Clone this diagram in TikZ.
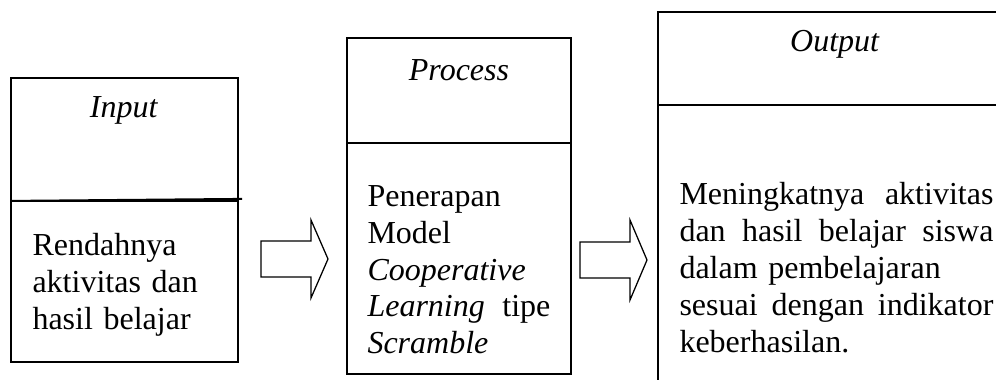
\documentclass[tikz,border=0pt]{standalone}
\usepackage{fontspec}
\setmainfont{Liberation Serif}
\usetikzlibrary{positioning}

% one unit = one pixel of the page
\newcommand{\px}{0.3937pt}

\begin{document}
\begin{tikzpicture}[x=\px, y=-\px,
    font=\fontsize{12.6}{14.5}\selectfont,
    box/.style={rectangle, draw, line width=0.8pt, inner sep=0pt, outer sep=0pt},
    boxtext/.style={anchor=north west, align=left, inner sep=0pt}]
  \useasboundingbox (0,0) rectangle (996,380);
  \clip (0,0) rectangle (996,380);

  % input
  \node (input-head) [box, minimum width=89.4pt, minimum height=48.4pt, anchor=north west] at (11,78) {};
  \node (input-body) [box, minimum width=89.4pt, minimum height=63.4pt, below=0pt of input-head] {};
  \draw[line width=0.8pt] (input-head.south west) -- ([shift={(4,-2)}]input-head.south east);
  \node (input-label) at (124,110) {\textit{Input}};
  \node (input-text) [boxtext, text width=80pt] at (32,233) {Rendahnya\\aktivitas dan\\hasil belajar};

  % process
  \node (process-head) [box, minimum width=88.2pt, minimum height=41.3pt, anchor=north west] at (347,38) {};
  \node (process-body) [box, minimum width=88.2pt, minimum height=90.9pt, below=0pt of process-head] {};
  \node (process-label) at (459,70) {\textit{Process}};
  \node (process-text) [boxtext, text width=72pt] at (367,185) {Penerapan\\Model\\\textit{Cooperative}\\\textit{Learning}\hfill tipe\\\textit{Scramble}};

  % output (runs off the page)
  \node (output-head) [box, minimum width=139.4pt, minimum height=36.6pt, anchor=north west] at (658,12) {};
  \node (output-body) [box, minimum width=139.4pt, minimum height=116pt, below=0pt of output-head] {};
  \node (output-label) at (835,44) {\textit{Output}};
  \node (output-text) [boxtext, text width=123.6pt] at (679,182) {Meningkatnya\hfill aktivitas\\dan\hfill hasil\hfill belajar\hfill siswa\\dalam pembelajaran\\sesuai\hfill dengan\hfill indikator\\keberhasilan.};

  % block arrows between the columns
  \coordinate (arrow1) at (261,241);
  \coordinate (arrow2) at (580,242);
  \draw[line width=0.5pt] (arrow1) -- ++(50,0) -- ++(0,-21) -- ++(17,39) -- ++(-17,39) -- ++(0,-21) -- ++(-50,0) -- cycle;
  \draw[line width=0.5pt] (arrow2) -- ++(50,0) -- ++(0,-22) -- ++(17,40) -- ++(-17,40) -- ++(0,-22) -- ++(-50,0) -- cycle;
\end{tikzpicture}
\end{document}
